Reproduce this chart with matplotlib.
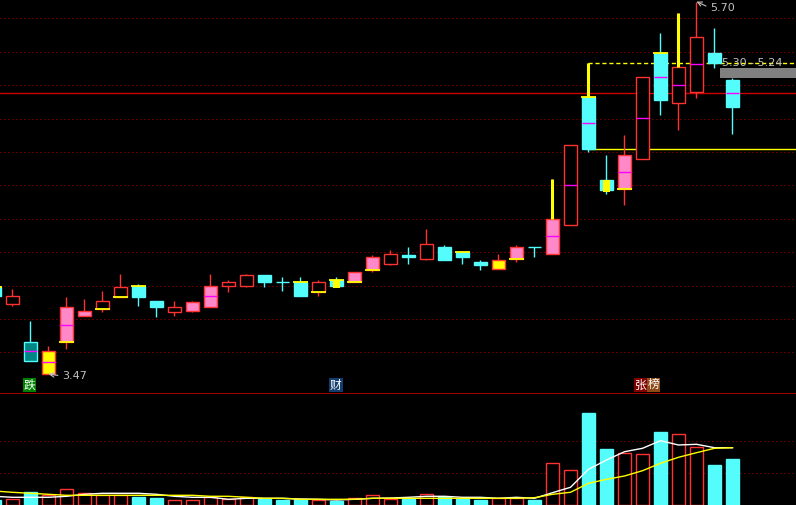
import numpy as np
import matplotlib
matplotlib.use("Agg")
import matplotlib.pyplot as plt
from matplotlib.patches import Rectangle
from matplotlib.transforms import blended_transform_factory

# ---------------- data ----------------
opens  = [3.99, 3.89, 3.66, 3.47, 3.66, 3.82, 3.86, 3.93, 4.00, 3.91, 3.84, 3.85, 3.87, 4.00,
          4.00, 4.06, 4.02, 4.02, 3.96, 4.03, 4.02, 4.09, 4.13, 4.18, 4.16, 4.23, 4.20, 4.14,
          4.10, 4.16, 4.23, 4.19, 4.36, 5.13, 4.63, 4.58, 4.76, 5.39, 5.09, 5.16, 5.39, 5.23]
closes = [3.94, 3.94, 3.55, 3.61, 3.87, 3.85, 3.91, 3.99, 3.93, 3.87, 3.87, 3.90, 4.00, 4.02,
          4.06, 4.02, 4.02, 3.94, 4.02, 4.00, 4.08, 4.17, 4.19, 4.17, 4.25, 4.15, 4.17, 4.12,
          4.15, 4.23, 4.23, 4.40, 4.84, 4.82, 4.57, 4.78, 5.25, 5.11, 5.31, 5.49, 5.33, 5.07]
highs  = [3.99, 3.98, 3.79, 3.64, 3.93, 3.92, 3.97, 4.07, 4.01, 3.91, 3.91, 3.91, 4.07, 4.03,
          4.07, 4.06, 4.05, 4.05, 4.03, 4.05, 4.08, 4.18, 4.21, 4.23, 4.34, 4.24, 4.20, 4.15,
          4.19, 4.24, 4.23, 4.64, 4.84, 5.33, 4.78, 4.90, 5.25, 5.51, 5.63, 5.70, 5.54, 5.24]
lows   = [3.94, 3.88, 3.55, 3.47, 3.62, 3.82, 3.84, 3.93, 3.88, 3.81, 3.82, 3.84, 3.87, 3.96,
          3.99, 3.99, 3.97, 3.94, 3.94, 3.99, 4.02, 4.08, 4.12, 4.13, 4.15, 4.15, 4.13, 4.09,
          4.10, 4.14, 4.17, 4.19, 4.36, 4.80, 4.55, 4.48, 4.76, 5.02, 4.93, 5.12, 5.30, 4.91]
# candle kinds: r = hollow up, p = pink up, y = yellow up, c = cyan down, t = teal down, cy = cyan with yellow core
kinds = ['c', 'r', 't', 'y', 'p', 'p', 'r', 'r', 'c', 'c', 'r', 'p', 'p', 'r',
         'r', 'c', 'c', 'c', 'r', 'cy', 'p', 'p', 'r', 'c', 'r', 'c', 'c', 'c',
         'y', 'p', 'c', 'p', 'r', 'c', 'cy', 'p', 'r', 'c', 'r', 'r', 'c', 'c']
# yellow marker at body: 1 = top, -1 = bottom, 0 = none
marks = [1, 0, 0, 0, -1, 0, -1, -1, 1, 0, 0, 0, 0, 0,
         0, 0, 0, 1, -1, 1, -1, -1, 0, 0, 0, 0, 1, 0,
         0, -1, 0, 0, 0, 1, 0, -1, 0, 1, 0, 0, 0, 0]
thick_upper = [31, 33, 38]

volumes = [5, 6, 13, 10, 16, 12, 10, 10, 8, 7, 5, 5, 8, 6, 8, 6, 5, 6, 5, 4, 7,
           10, 6, 6, 11, 8, 6, 5, 7, 7, 5, 42, 35, 92, 56, 52, 51, 73, 71, 58, 40, 46]
vol_ma5 = [8.7, 7.7, 7.7, 7.7, 8.7, 10.7, 11.7, 11.7, 11.7, 10.7, 8.7, 7.7, 7.7, 5.7,
           6.7, 6.7, 6.7, 6.0, 5.7, 5.0, 5.7, 6.7, 7.0, 7.7, 8.7, 8.7, 7.7, 7.7,
           6.7, 7.7, 6.7, 12.3, 17.7, 35.7, 45.0, 53.3, 56.7, 64.3, 60.0, 60.7, 57.3, 57.3]
vol_ma10 = [14.0, 12.7, 11.7, 10.7, 9.7, 9.7, 9.7, 9.7, 9.7, 9.7, 9.7, 9.7, 8.7, 8.7,
            7.7, 6.7, 6.7, 5.7, 5.7, 5.7, 5.7, 6.7, 6.7, 6.7, 6.7, 6.7, 6.7, 6.7,
            6.7, 6.7, 7.3, 10.7, 12.7, 21.7, 25.7, 29.0, 34.3, 41.7, 47.7, 52.3, 56.7, 57.3]

price_grid = [3.6, 3.8, 4.0, 4.2, 4.4, 4.6, 4.8, 5.0, 5.2, 5.4, 5.6]
vol_grid = [32, 64]
pivot = 33                 # candle whose high / close are extended to the right
ref_price = 5.15
zone_low, zone_high = 5.24, 5.30
zone_start = 40.3
news = [("跌", 1.94, "#008000"), ("财", 18.97, "#123c6c"),
        ("张", 35.92, "#800000"), ("榜", 36.61, "#8c4a16")]

# ---------------- style ----------------
RED = "#ff3232"
CYAN = "#54fcfc"
PINK = "#ff88c8"
YEL = "#ffff00"
TEAL = "#008484"
MAG = "#ff00ff"
GRID = "#b00000"
TXT = "#c0c0c0"
PX = 0.72
EW = 1.0
W = 0.67
NUMFONT = dict(fontsize=8, family="DejaVu Sans")

n = len(opens)
x = np.arange(n)
XL = (0.3056, 44.528)

fig = plt.figure(figsize=(7.96, 5.05), dpi=100, facecolor="black")
ax = fig.add_axes([0, 112 / 505, 1, 393 / 505])
axv = fig.add_axes([0, 0, 1, 112 / 505])
for a in (ax, axv):
    a.set_facecolor("black")
    for s in a.spines.values():
        s.set_visible(False)
    a.tick_params(left=False, bottom=False, labelleft=False, labelbottom=False)
    a.set_xlim(*XL)
ax.set_ylim(3.3563, 5.7096)
axv.set_ylim(0, 112)
axv.spines["top"].set_visible(True)
axv.spines["top"].set_color("#a00000")
axv.spines["top"].set_linewidth(PX)

for p in price_grid:
    ax.axhline(p, color=GRID, lw=PX, linestyle=(0, (1, 3)), zorder=0)
for v in vol_grid:
    axv.axhline(v, color=GRID, lw=PX, linestyle=(0, (1, 3)), zorder=0)

face = {"r": "black", "p": PINK, "y": YEL, "c": CYAN, "t": TEAL, "cy": CYAN}
for i in range(n):
    o, c, h, l, k = opens[i], closes[i], highs[i], lows[i], kinds[i]
    top, bot = max(o, c), min(o, c)
    col = RED if k in ("r", "p", "y") else CYAN
    # wicks
    if k == "r":
        if h > top:
            ax.vlines(i, top, h, color=col, lw=EW, zorder=2)
        if l < bot:
            ax.vlines(i, l, bot, color=col, lw=EW, zorder=2)
    else:
        ax.vlines(i, l, h, color=col, lw=EW, zorder=2)
    if i in thick_upper:
        ax.vlines(i, top, h, color=YEL, lw=2.2, zorder=4)
    # body
    if top - bot < 0.005:
        ax.hlines(o, i - W / 2, i + W / 2, color=col, lw=EW, zorder=3)
    else:
        ax.add_patch(Rectangle((i - W / 2, bot), W, top - bot, facecolor=face[k],
                               edgecolor=col, lw=EW, zorder=3))
    if k == "cy":
        ax.add_patch(Rectangle((i - 0.17, bot - 0.012), 0.34, top - bot + 0.012,
                               facecolor=YEL, edgecolor="none", zorder=3.5))
    if top - bot > 0.1:
        ax.hlines((o + c) / 2, i - W / 2, i + W / 2, color=MAG, lw=EW, zorder=3.6)
    if marks[i] != 0:
        yy = top if marks[i] > 0 else bot
        ax.hlines(yy, i - 0.42, i + 0.42, color=YEL, lw=1.3, zorder=4)

# level lines
ax.hlines(highs[pivot], pivot, XL[1], color=YEL, lw=EW, linestyle=(0, (3, 2)), zorder=1)
ax.hlines(closes[pivot], pivot - 0.1, XL[1], color=YEL, lw=EW, zorder=1)
ax.axhline(ref_price, color="#d00000", lw=EW, zorder=1)
ax.add_patch(Rectangle((zone_start, zone_low), XL[1] - zone_start, zone_high - zone_low,
                       facecolor="#808080", edgecolor="none", zorder=1.5))
ax.text(zone_start + 0.1, 5.314, f"{zone_high:.2f} - {zone_low:.2f}", color=TXT,
        ha="left", va="baseline", zorder=5, **NUMFONT)

# extreme annotations
imax = int(np.argmax(highs))
imin = int(np.argmin(lows))
ax.annotate(f"{highs[imax]:.2f}", xy=(imax, highs[imax]), xytext=(imax + 0.75, 5.644),
            color=TXT, ha="left", va="baseline", **NUMFONT,
            arrowprops=dict(arrowstyle="->", color=TXT, lw=0.8, relpos=(0, 0.5),
                            shrinkA=1, shrinkB=0))
ax.annotate(f"{lows[imin]:.2f}", xy=(imin, lows[imin]), xytext=(imin + 0.75, 3.440),
            color=TXT, ha="left", va="baseline", **NUMFONT,
            arrowprops=dict(arrowstyle="->", color=TXT, lw=0.8, relpos=(0, 0.5),
                            shrinkA=1, shrinkB=0))

# news labels
blend = blended_transform_factory(ax.transData, ax.transAxes)
for txt, xi, bg in news:
    ax.text(xi, 0.0204, txt, transform=blend, ha="center", va="center", color="white",
            fontsize=8.5, family=["Noto Sans CJK SC", "DejaVu Sans"], zorder=6,
            bbox=dict(boxstyle="square,pad=0.06", facecolor=bg, edgecolor="none"))

# volume
for i in range(n):
    down = kinds[i] in ("c", "t", "cy")
    if down:
        axv.add_patch(Rectangle((i - W / 2, 0), W, volumes[i], facecolor=CYAN,
                                edgecolor=CYAN, lw=EW, zorder=2))
    else:
        axv.add_patch(Rectangle((i - W / 2, 0), W, volumes[i], facecolor="black",
                                edgecolor=RED, lw=EW, zorder=2))
axv.plot(x, vol_ma5, color="white", lw=EW, zorder=3)
axv.plot(x, vol_ma10, color=YEL, lw=EW, zorder=3)

fig.savefig("out.png", dpi=100, facecolor="black")
